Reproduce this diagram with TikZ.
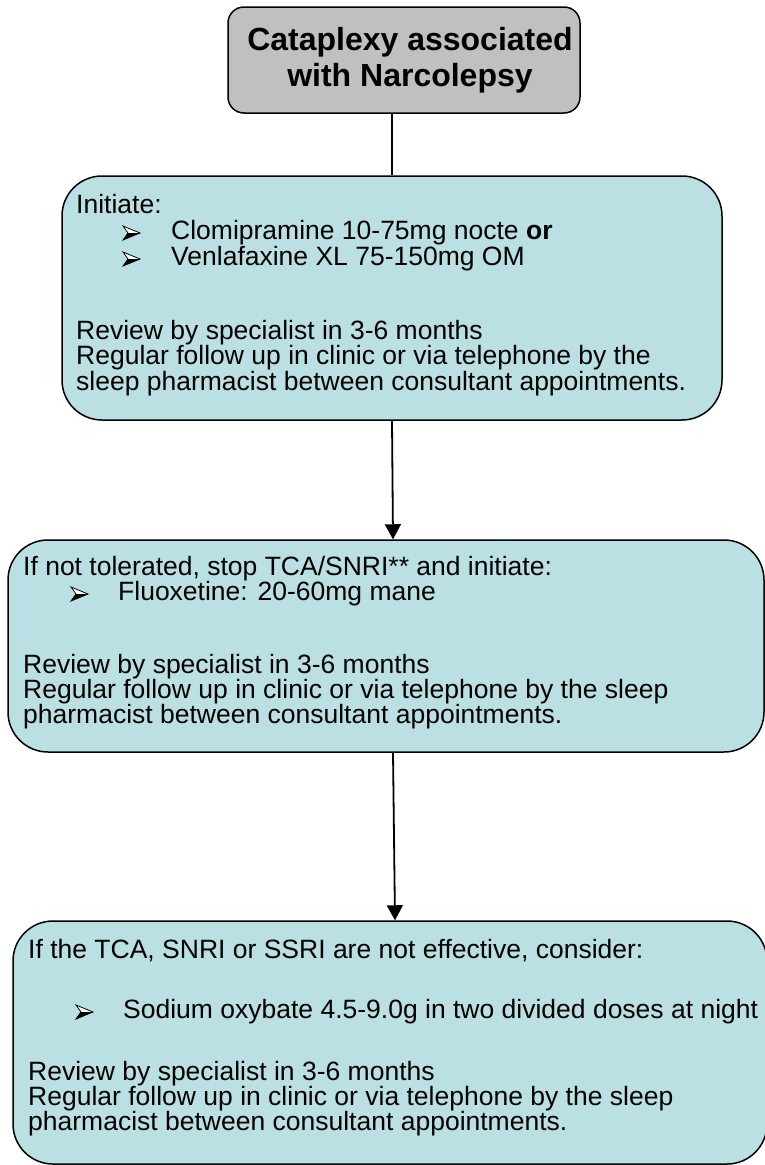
\documentclass[tikz,border=0pt]{standalone}
\usepackage{fontspec}
\setmainfont{Liberation Sans}
\usetikzlibrary{arrows.meta}
\definecolor{boxfill}{HTML}{BBE0E3}
\definecolor{titlefill}{HTML}{C0C0C0}
\tikzset{
 flowbox/.style={draw=black, line width=1.5pt, fill=boxfill, rounded corners=40pt, inner sep=0pt},
 titlebox/.style={draw=black, line width=1.5pt, fill=titlefill, rounded corners=16pt, inner sep=0pt},
 txt/.style={anchor=base west, inner sep=0pt, font=\fontsize{26.5}{30}\selectfont},
 ttl/.style={anchor=base, inner sep=0pt, font=\bfseries\fontsize{32}{36}\selectfont},
 arr/.style={line width=1.8pt, -{Triangle[width=16pt,length=15pt]}},
 conn/.style={line width=1.5pt},
 bulletarrow/.pic={
   \fill[black] (5,0) -- (17,0) -- (0,7) -- cycle;
   \fill[white] (0,-7) -- (17,0) -- (5,0) -- cycle;
   \draw[line width=0.8pt, line join=miter] (0,-7) -- (17,0) -- (0,7) -- (5,0) -- cycle;
   \draw[line width=0.6pt] (5,0) -- (17,0);
 },
}
\begin{document}
\begin{tikzpicture}[x=1pt,y=-1pt]
\useasboundingbox (0,0) rectangle (765,1165);
\clip (0,0) rectangle (765,1165);
% boxes
\node[titlebox, minimum width=352pt, minimum height=106pt] (t) at (404,60) {};
\node[flowbox, minimum width=660pt, minimum height=244pt] (b1) at (392,298) {};
\node[flowbox, minimum width=756pt, minimum height=212pt] (b2) at (386,646) {};
\node[flowbox, minimum width=754pt, minimum height=243pt] (b3) at (390,1042.5) {};
% connectors
\draw[conn] (t.south -| b1.north) -- (b1.north);
\draw[arr] (b1.south) -- ([xshift=7pt]b2.north);
\draw[arr] ([xshift=7pt]b2.south) -- ([xshift=5pt]b3.north);
% title
\node[ttl] (t1) at (410,50) {Cataplexy associated};
\node[ttl] (t2) at (410,86) {with Narcolepsy};
% box 1
\node[txt] (a1) at (76,213) {Initiate:};
\pic at (123,233) {bulletarrow};
\node[txt] (a2) at (171,239) {Clomipramine 10-75mg nocte \textbf{or}};
\pic at (123,259) {bulletarrow};
\node[txt] (a3) at (171,265) {Venlafaxine XL 75-150mg OM};
\node[txt] (a4) at (76,339) {Review by specialist in 3-6 months};
\node[txt] (a5) at (76,364) {Regular follow up in clinic or via telephone by the};
\node[txt] (a6) at (76,390) {sleep pharmacist between consultant appointments.};
% box 2
\node[txt] (c1) at (23,575) {If not tolerated, stop TCA/SNRI** and initiate:};
\pic at (71,594) {bulletarrow};
\node[txt] (c2) at (118,600) {Fluoxetine: 20-60mg mane};
\node[txt] (c3) at (23,673) {Review by specialist in 3-6 months};
\node[txt] (c4) at (23,698) {Regular follow up in clinic or via telephone by the sleep};
\node[txt] (c5) at (23,723) {pharmacist between consultant appointments.};
% box 3
\node[txt] (d1) at (28,958) {If the TCA, SNRI or SSRI are not effective, consider:};
\pic at (76,1012) {bulletarrow};
\node[txt] (d2) at (123,1018) {Sodium oxybate 4.5-9.0g in two divided doses at night};
\node[txt] (d3) at (28,1080) {Review by specialist in 3-6 months};
\node[txt] (d4) at (28,1105) {Regular follow up in clinic or via telephone by the sleep};
\node[txt] (d5) at (28,1130) {pharmacist between consultant appointments.};
\end{tikzpicture}
\end{document}
